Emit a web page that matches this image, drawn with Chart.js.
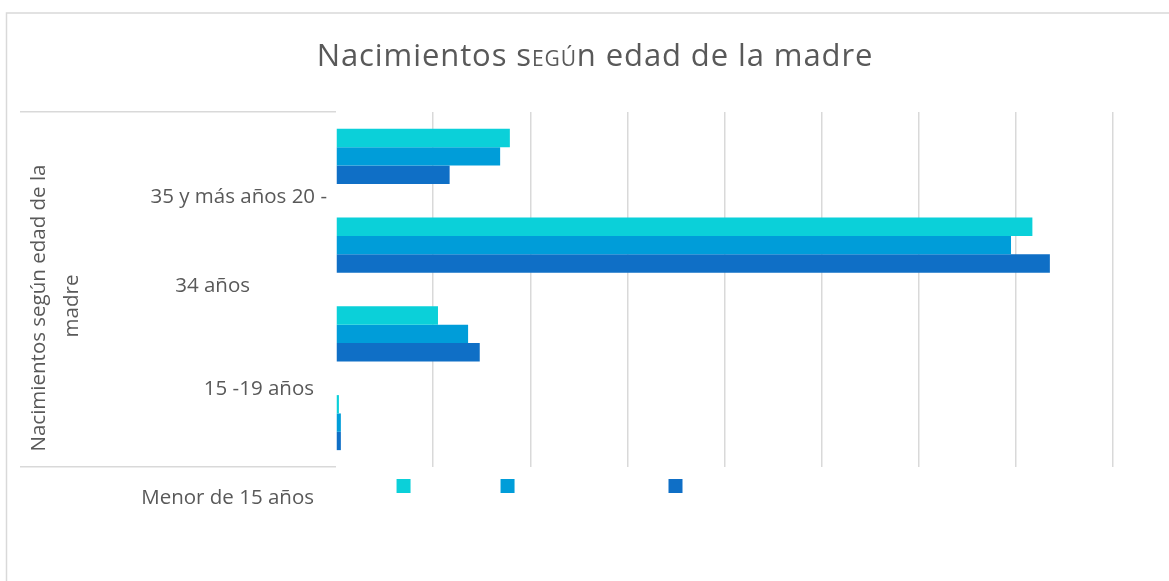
<!DOCTYPE html>
<html>
<head>
<meta charset="utf-8">
<script src="https://cdn.jsdelivr.net/npm/chart.js@4.4.1/dist/chart.umd.min.js"></script>
<style>
  html, body { margin: 0; padding: 0; background: #fff; }
</style>
</head>
<body>
<canvas id="births-chart" width="1169" height="581"></canvas>
<script>
const birthsCanvas = document.getElementById("births-chart")

// data

const categories = ["35 y más años", "20 - 34 años", "15 -19 años", "Menor de 15 años"]
const tickLabels = ["35 y más años 20 -", "34 años", "15 -19 años", "Menor de 15 años"]
const seriesCyan = [1790, 7170, 1050, 30]
const seriesBlue = [1690, 6950, 1360, 50]
const seriesDark = [1170, 7350, 1480, 50]
// the legend in the picture shows only swatches, the names are blank
const legendNames = [
  "\u2003\u2003\u2003\u2003\u2003\u2003",
  "\u2003\u2003\u2003\u2003\u2003\u2003\u2003\u2003\u2003\u2003\u2003\u2004",
  "\u2003\u2003\u2004",
]
const xMax = 8000
const xStep = 1000
const titleText = ["Nacimientos s", "EGÚ", "n edad de la madre"]
const axisTitle = ["Nacimientos según edad de la", "madre"]

const grey = "#595959"
const lineGrey = "#d9d9d9"

// plugins

const frame = {
  id: "frame",
  beforeDraw(chart) {
    const ctx = chart.ctx
    ctx.save()
    ctx.fillStyle = "#fff"
    ctx.fillRect(0, 0, chart.width, chart.height)
    ctx.strokeStyle = lineGrey
    ctx.lineWidth = 1.5
    ctx.strokeRect(6.5, 13, chart.width + 20, chart.height + 20)
    ctx.restore()
  },
}

const excelTitle = {
  id: "excelTitle",
  afterDraw(chart, args, opts) {
    const ctx = chart.ctx
    ctx.save()
    ctx.fillStyle = grey
    ctx.textBaseline = "alphabetic"
    ctx.textAlign = "left"
    ctx.letterSpacing = opts.spacing + "px"
    const fonts = titleText.map((t, i) => (i === 1 ? opts.small : opts.size) + "px 'Open Sans'")
    let total = 0
    titleText.forEach((t, i) => {
      ctx.font = fonts[i]
      total += ctx.measureText(t).width
    })
    let x = opts.center - total / 2
    titleText.forEach((t, i) => {
      ctx.font = fonts[i]
      ctx.fillText(t, x, opts.baseline)
      x += ctx.measureText(t).width
    })
    ctx.restore()
  },
}

const categoryText = {
  id: "categoryText",
  afterDraw(chart, args, opts) {
    const ctx = chart.ctx
    const y = chart.scales.y
    ctx.save()
    ctx.fillStyle = grey
    ctx.font = opts.size + "px 'Open Sans'"
    ctx.textAlign = "right"
    ctx.textBaseline = "alphabetic"
    tickLabels.forEach((t, i) => {
      ctx.fillText(t, opts.right[i], y.getPixelForValue(i) + opts.shift[i])
    })
    // rotated axis title, two lines
    ctx.textAlign = "center"
    axisTitle.forEach((t, i) => {
      ctx.save()
      ctx.translate(opts.titleX[i], opts.titleY[i])
      ctx.rotate(-Math.PI / 2)
      ctx.fillText(t, 0, 0)
      ctx.restore()
    })
    ctx.restore()
  },
}

// chart

const birthsData = {
  labels: categories,
  datasets: [
    { label: legendNames[0], data: seriesCyan, backgroundColor: "#0BD0D9" },
    { label: legendNames[1], data: seriesBlue, backgroundColor: "#009DD9" },
    { label: legendNames[2], data: seriesDark, backgroundColor: "#0F6FC6" },
  ],
}

const birthsOptions = {
  responsive: false,
  animation: false,
  indexAxis: "y",
  layout: {
    padding: { top: 112, right: 56, bottom: 78, left: 0 },
  },
  datasets: {
    bar: {
      borderWidth: 0,
      categoryPercentage: 0.62,
      barPercentage: 1,
    },
  },
  scales: {
    x: {
      min: 0,
      max: xMax,
      ticks: { display: false, stepSize: xStep },
      border: { display: false },
      grid: {
        drawTicks: false,
        lineWidth: 1.5,
        color: (c) => (c.tick && c.tick.value === 0 ? "rgba(0,0,0,0)" : lineGrey),
      },
    },
    y: {
      ticks: { display: false },
      border: { display: false },
      grid: {
        offset: true,
        drawOnChartArea: false,
        drawTicks: true,
        tickLength: 316,
        lineWidth: 1.5,
        color: (c) => (c.type !== "tick" || c.index === 0 ? lineGrey : "rgba(0,0,0,0)"),
      },
      afterFit: (scale) => {
        scale.width = 336
      },
    },
  },
  plugins: {
    legend: {
      position: "bottom",
      labels: {
        boxWidth: 14,
        boxHeight: 14,
        padding: 12,
        color: grey,
        font: { family: "DejaVu Sans", size: 12 },
      },
    },
    tooltip: { enabled: false },
    excelTitle: { center: 595, baseline: 66, size: 31, small: 21, spacing: 0.9 },
    categoryText: {
      size: 20.5,
      right: [327, 250, 314, 314],
      shift: [46.6, 46.9, 61.1, 81.4],
      titleX: [44.5, 78],
      titleY: [308, 306],
    },
  },
}

let birthsChart = new Chart(birthsCanvas, {
  type: "bar",
  data: birthsData,
  options: birthsOptions,
  plugins: [frame, excelTitle, categoryText],
})
</script>
</body>
</html>
